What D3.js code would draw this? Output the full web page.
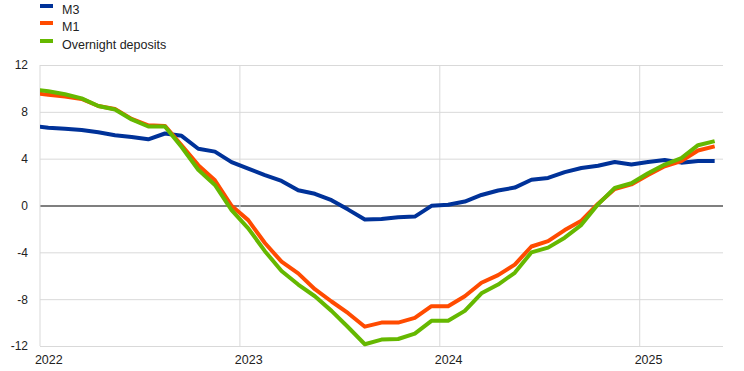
<!DOCTYPE html>
<html>
<head>
<meta charset="utf-8">
<script src="https://cdn.jsdelivr.net/npm/d3@7"></script>
<style>
	body { margin: 0; background: #fff; }
	text { font-family: Arial, "Liberation Sans", sans-serif; fill: #222; }
</style>
</head>
<body>
<svg id="chart" width="744" height="371"></svg>
<script>

// monthly observations, Dec 2021 .. May 2025 (annual % changes)
let months = [
	"2021-12",
	"2022-01","2022-02","2022-03","2022-04","2022-05","2022-06","2022-07","2022-08","2022-09","2022-10","2022-11","2022-12",
	"2023-01","2023-02","2023-03","2023-04","2023-05","2023-06","2023-07","2023-08","2023-09","2023-10","2023-11","2023-12",
	"2024-01","2024-02","2024-03","2024-04","2024-05","2024-06","2024-07","2024-08","2024-09","2024-10","2024-11","2024-12",
	"2025-01","2025-02","2025-03","2025-04","2025-05"
];

let m3 = [
	6.8,
	6.65, 6.55, 6.45, 6.25, 6.0, 5.85, 5.65, 6.15, 5.95, 4.85, 4.6, 3.7,
	3.15, 2.6, 2.1, 1.3, 1.0, 0.45, -0.35, -1.2, -1.15, -1.0, -0.95, -0.03,
	0.06, 0.34, 0.9, 1.28, 1.53, 2.2, 2.35, 2.85, 3.2, 3.4, 3.72, 3.5,
	3.72, 3.88, 3.66, 3.8, 3.8
];

let m1 = [
	9.65,
	9.45, 9.3, 9.1, 8.5, 8.25, 7.4, 6.85, 6.8, 5.15, 3.45, 2.15, -0.03,
	-1.25, -3.2, -4.8, -5.8, -7.15, -8.2, -9.2, -10.35, -10.0, -10.0, -9.6, -8.6,
	-8.6, -7.75, -6.6, -5.95, -5.05, -3.5, -3.05, -2.1, -1.3, 0.15, 1.4, 1.8,
	2.6, 3.35, 3.8, 4.7, 5.05
];

let overnight = [
	9.95,
	9.75, 9.5, 9.15, 8.5, 8.2, 7.35, 6.75, 6.75, 5.0, 3.05, 1.75, -0.4,
	-1.95, -3.9, -5.6, -6.75, -7.75, -9.0, -10.4, -11.85, -11.45, -11.4, -10.95, -9.85,
	-9.85, -9.0, -7.5, -6.75, -5.75, -4.0, -3.6, -2.75, -1.65, 0.1, 1.5, 1.9,
	2.75, 3.5, 4.05, 5.15, 5.5
];

let seriesNames = ["M3", "M1", "Overnight deposits"];
let seriesColors = ["#003299", "#ff4b00", "#65b800"];
let yTicks = [-12, -8, -4, 0, 4, 8, 12];
let yearLabels = ["2022", "2023", "2024", "2025"];

let svg = d3.select("#chart");
let margin = { top: 65, right: 21, bottom: 25, left: 40 };
let width = 744 - margin.left - margin.right;
let height = 371 - margin.top - margin.bottom;

// month index 0 = Jan 2022, points sit in the middle of their month
let x = d3.scaleLinear().domain([0, 41]).range([0, width]);
let y = d3.scaleLinear().domain([-12, 12]).range([height, 0]);

function monthIndex(m) {
	let parts = m.split("-");
	return (+parts[0] - 2022) * 12 + (+parts[1] - 1);
}

let g = svg.append("g")
	.attr("transform", "translate(" + margin.left + "," + margin.top + ")");

svg.append("defs").append("clipPath")
	.attr("id", "plotClip")
	.append("rect")
	.attr("x", 0).attr("y", -10)
	.attr("width", width).attr("height", height + 20);

// horizontal grid + y labels (plain hyphen for negatives, like the original)
g.append("g")
	.attr("class", "axis axis--y")
	.call(d3.axisLeft(y)
		.tickValues(yTicks)
		.tickFormat(function (d) { return String(d); })
		.tickSize(-width)
		.tickPadding(12))
	.call(function (a) {
		a.select(".domain").remove();
		a.selectAll(".tick line")
			.attr("stroke", function (d) { return d === 0 ? "#555" : "#d9d9d9"; })
			.attr("stroke-width", function (d) { return d === 0 ? 1.3 : 1; });
		a.selectAll(".tick text")
			.attr("font-size", 12)
			.style("fill", "#222");
	});

// vertical year lines (left edge plus each new year)
g.append("g")
	.selectAll("line")
	.data([0, 12, 24, 36])
	.enter()
	.append("line")
	.attr("x1", function (d) { return x(d); })
	.attr("x2", function (d) { return x(d); })
	.attr("y1", 0)
	.attr("y2", height)
	.attr("stroke", "#d9d9d9")
	.attr("stroke-width", 1);

// year labels under January of each year
g.append("g")
	.attr("class", "axis axis--x")
	.attr("transform", "translate(0," + height + ")")
	.call(d3.axisBottom(x)
		.tickValues([0.5, 12.5, 24.5, 36.5])
		.tickFormat(function (d, i) { return yearLabels[i]; })
		.tickSize(0)
		.tickPadding(9))
	.call(function (a) {
		a.select(".domain").remove();
		a.selectAll(".tick text")
			.attr("font-size", 12.5)
			.style("fill", "#222");
	});

let line = d3.line()
	.x(function (d) { return x(monthIndex(d.month) + 0.5); })
	.y(function (d) { return y(d.value); });

let allSeries = [m3, m1, overnight];

g.append("g")
	.attr("clip-path", "url(#plotClip)")
	.selectAll("path")
	.data(allSeries)
	.enter()
	.append("path")
	.attr("fill", "none")
	.attr("stroke", function (d, i) { return seriesColors[i]; })
	.attr("stroke-width", 4)
	.attr("stroke-linejoin", "round")
	.attr("d", function (values) {
		return line(values.map(function (v, i) { return { month: months[i], value: v }; }));
	});

// legend
let legend = svg.append("g")
	.selectAll("g")
	.data(seriesNames)
	.enter()
	.append("g")
	.attr("transform", function (d, i) { return "translate(40," + [6, 23, 41][i] + ")"; });

legend.append("rect")
	.attr("x", 0)
	.attr("y", -2)
	.attr("width", 13)
	.attr("height", 4)
	.attr("fill", function (d, i) { return seriesColors[i]; });

legend.append("text")
	.attr("x", 22)
	.attr("y", 8)
	.attr("font-size", 12.5)
	.text(function (d) { return d; });

</script>
</body>
</html>
